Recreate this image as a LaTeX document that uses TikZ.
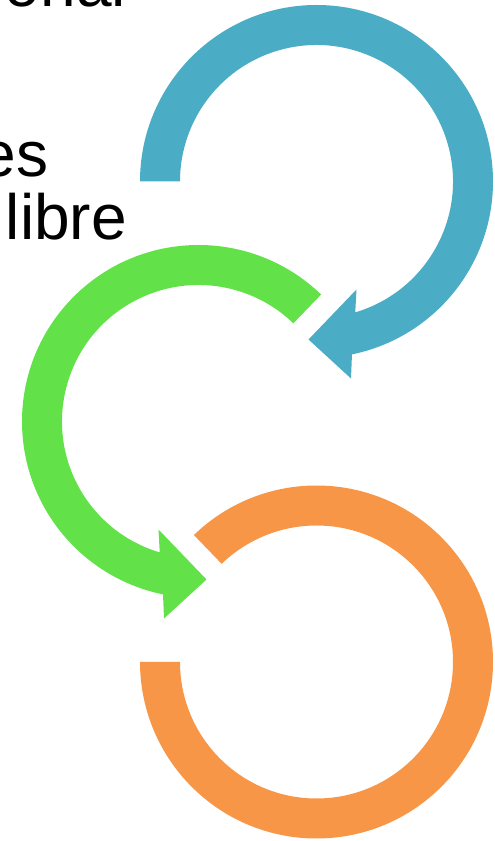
\documentclass[tikz,border=0pt]{standalone}
\usepackage{fontspec}
\setmainfont{Liberation Sans}
\usepackage{xcolor}
\definecolor{arrowBlue}{RGB}{75, 172, 198}
\definecolor{arrowGreen}{RGB}{98, 226, 72}
\definecolor{arrowOrange}{RGB}{247, 150, 70}

\begin{document}
\begin{tikzpicture}[x=1pt, y=1pt]
            \tikzstyle{label} = [anchor=base west, inner sep=0pt, font=\fontsize{64}{64}\selectfont, text=black]
            \tikzstyle{ring} = [draw=none]
            \useasboundingbox (0,0) rectangle (495,841);
            \clip (0,0) rectangle (495,841);

            % Text, cut at the left edge
            \node[label] (t1) at (-9.5,834) {ional};
            \node[label] (t2) at (-19.5,664) {es};
            \node[label] (t3) at (5.7,601) {libre};

            % Blue arrow
            \coordinate (cb) at (316.5,659.5);
            \begin{scope}[shift={(cb)}]
                \fill[ring, arrowBlue] (180:176.5) arc[start angle=180, end angle=-78.4, radius=176.5]
                    -- (34.5,-197) -- (-8,-158) -- (40,-108)
                    -- (-73.5:136.5) arc[start angle=-73.5, end angle=180, radius=136.5] -- cycle;
            \end{scope}

            % Green arrow
            \coordinate (cg) at (198.5,419.5);
            \begin{scope}[shift={(cg)}]
                \fill[ring, arrowGreen] (46:176.5) arc[start angle=46, end angle=258.4, radius=176.5]
                    -- (-34.5,-197) -- (8,-158) -- (-40,-108)
                    -- (253.5:136.5) arc[start angle=253.5, end angle=46, radius=136.5] -- cycle;
            \end{scope}

            % Orange ring
            \coordinate (co) at (316.5,179);
            \begin{scope}[shift={(co)}]
                \fill[ring, arrowOrange] (134:176.5) arc[start angle=134, end angle=-180, radius=176.5]
                    -- (-180:136.5) arc[start angle=-180, end angle=134, radius=136.5] -- cycle;
            \end{scope}
        \end{tikzpicture}
\end{document}
